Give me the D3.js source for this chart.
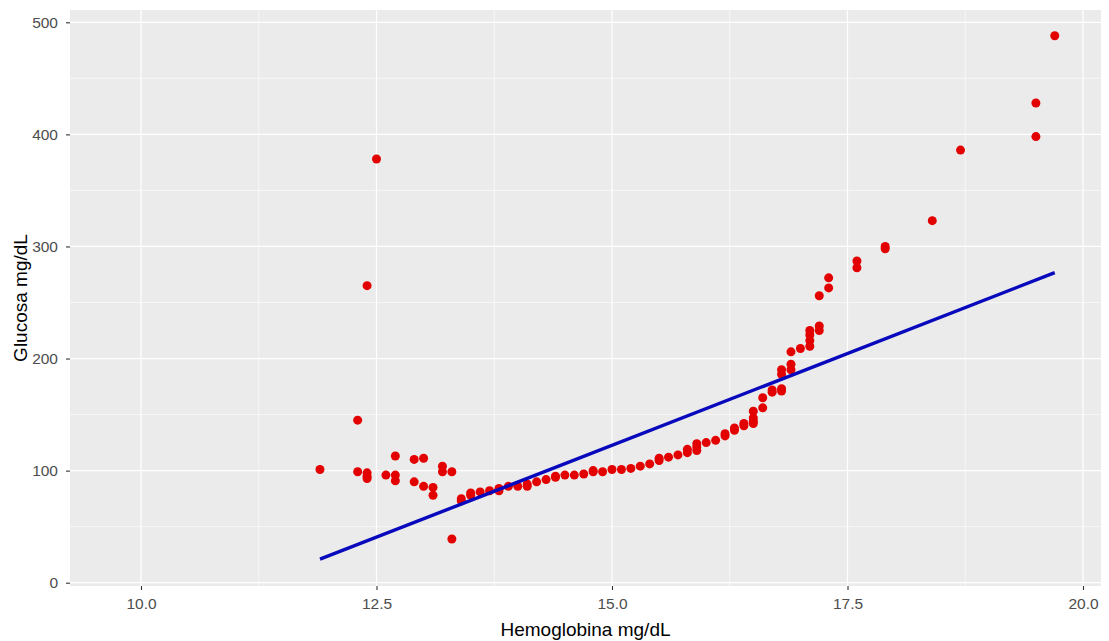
<!DOCTYPE html>
<html>
<head>
<meta charset="utf-8">
<script src="https://cdn.jsdelivr.net/npm/d3@7/dist/d3.min.js"></script>
<style>
    body { margin: 0; background: #fff; }
    svg { display: block; font-family: "Liberation Sans", Arial, sans-serif; }
</style>
</head>
<body>
<div id="chart"></div>
<script>
// hemoglobina (x) and glucosa (y)
var hemoglobina = [
    11.9, 12.3, 12.3, 12.4, 12.4, 12.4, 12.4, 12.5, 12.6, 12.7, 12.7, 12.7,
    12.9, 12.9, 13.0, 13.0, 13.1, 13.1, 13.2, 13.2, 13.3, 13.3, 13.4, 13.4,
    13.5, 13.5, 13.6, 13.7, 13.8, 13.8, 13.9, 14.0, 14.1, 14.1, 14.2, 14.3,
    14.4, 14.4, 14.5, 14.6, 14.7, 14.8, 14.8, 14.9, 15.0, 15.1, 15.2, 15.3,
    15.4, 15.5, 15.5, 15.6, 15.7, 15.8, 15.8, 15.9, 15.9, 15.9, 16.0, 16.1,
    16.2, 16.2, 16.3, 16.3, 16.4, 16.4, 16.5, 16.5, 16.5, 16.5, 16.6, 16.6,
    16.7, 16.7, 16.8, 16.8, 16.8, 16.8, 16.9, 16.9, 16.9, 17.0, 17.1, 17.1,
    17.1, 17.1, 17.2, 17.2, 17.2, 17.3, 17.3, 17.6, 17.6, 17.9, 17.9, 18.4,
    18.7, 19.5, 19.5, 19.7
];
var glucosa = [
    101, 145, 99, 265, 98, 95, 93, 378, 96, 113, 96, 91,
    110, 90, 111, 86, 85, 78, 104, 99, 99, 39, 75, 73,
    80, 78, 81, 82, 84, 82, 86, 86, 88, 86, 90, 92,
    95, 94, 96, 96, 97, 99, 100, 99, 101, 101, 102, 104,
    106, 109, 111, 112, 114, 119, 116, 124, 121, 118, 125, 127,
    133, 131, 138, 136, 142, 140, 153, 147, 144, 142, 165, 156,
    172, 170, 190, 186, 173, 171, 206, 195, 190, 209, 225, 221,
    216, 211, 256, 229, 225, 272, 263, 287, 281, 300, 298, 323,
    386, 428, 398, 488
];

// linear fit (geom_smooth lm) end points
var fitX = [11.9, 19.7];
var fitY = [21, 276.6];

var xTicks = [10, 12.5, 15, 17.5, 20],
    xMinor = [11.25, 13.75, 16.25, 18.75];
var yTicks = [0, 100, 200, 300, 400, 500],
    yMinor = [50, 150, 250, 350, 450];

var xLabel = 'Hemoglobina mg/dL',
    yLabel = 'Glucosa mg/dL';

function drawChart(){
    var width = 1109,
        height = 641;
    var panel = { left: 70, right: 1101, top: 10, bottom: 586 };

    var svg = d3.select('#chart').append('svg')
        .attr('width', width)
        .attr('height', height);

    var x = d3.scaleLinear().domain([9.2463, 20.191]).range([panel.left, panel.right]);
    var y = d3.scaleLinear().domain([-2.94, 510.97]).range([panel.bottom, panel.top]);

    // grey panel
    svg.append('rect')
        .attr('x', panel.left)
        .attr('y', panel.top)
        .attr('width', panel.right - panel.left)
        .attr('height', panel.bottom - panel.top)
        .attr('fill', '#ebebeb');

    var grid = svg.append('g').attr('stroke', '#fff');

    // minor grid first, then major
    grid.selectAll('.xminor').data(xMinor).enter().append('line')
        .attr('x1', function(d){ return x(d); })
        .attr('x2', function(d){ return x(d); })
        .attr('y1', panel.top).attr('y2', panel.bottom)
        .attr('stroke-width', 0.6);
    grid.selectAll('.yminor').data(yMinor).enter().append('line')
        .attr('y1', function(d){ return y(d); })
        .attr('y2', function(d){ return y(d); })
        .attr('x1', panel.left).attr('x2', panel.right)
        .attr('stroke-width', 0.6);
    grid.selectAll('.xmajor').data(xTicks).enter().append('line')
        .attr('x1', function(d){ return x(d); })
        .attr('x2', function(d){ return x(d); })
        .attr('y1', panel.top).attr('y2', panel.bottom)
        .attr('stroke-width', 1.2);
    grid.selectAll('.ymajor').data(yTicks).enter().append('line')
        .attr('y1', function(d){ return y(d); })
        .attr('y2', function(d){ return y(d); })
        .attr('x1', panel.left).attr('x2', panel.right)
        .attr('stroke-width', 1.2);

    // points
    var points = hemoglobina.map(function(h, i){ return { x: h, y: glucosa[i] }; });
    svg.append('g')
        .selectAll('circle')
        .data(points)
        .enter().append('circle')
            .attr('cx', function(d){ return x(d.x); })
            .attr('cy', function(d){ return y(d.y); })
            .attr('r', 4.5)
            .attr('fill', '#e30000');

    // regression line
    var fit = fitX.map(function(v, i){ return [v, fitY[i]]; });
    svg.append('path')
        .datum(fit)
        .attr('fill', 'none')
        .attr('stroke', '#0808bc')
        .attr('stroke-width', 3.4)
        .attr('d', d3.line()
            .x(function(d){ return x(d[0]); })
            .y(function(d){ return y(d[1]); }));

    // axes
    var xAxis = svg.append('g')
        .attr('transform', 'translate(0,' + panel.bottom + ')')
        .call(d3.axisBottom(x).tickValues(xTicks).tickFormat(d3.format('.1f')).tickSize(4).tickPadding(8));
    var yAxis = svg.append('g')
        .attr('transform', 'translate(' + panel.left + ',0)')
        .call(d3.axisLeft(y).tickValues(yTicks).tickFormat(d3.format('d')).tickSize(4).tickPadding(8));

    [xAxis, yAxis].forEach(function(ax){
        ax.select('.domain').remove();
        ax.selectAll('.tick line').attr('stroke', '#333').attr('stroke-width', 1.1);
        ax.selectAll('.tick text')
            .attr('fill', '#4d4d4d')
            .style('font-size', '15.5px')
            .style('font-family', '"Liberation Sans", Arial, sans-serif');
    });

    // axis titles
    svg.append('text')
        .attr('x', (panel.left + panel.right) / 2)
        .attr('y', 636)
        .attr('text-anchor', 'middle')
        .attr('fill', '#000')
        .style('font-size', '19px')
        .text(xLabel);

    svg.append('text')
        .attr('transform', 'translate(27,' + (panel.top + panel.bottom) / 2 + ') rotate(-90)')
        .attr('text-anchor', 'middle')
        .attr('fill', '#000')
        .style('font-size', '19px')
        .text(yLabel);
}

drawChart();
</script>
</body>
</html>
